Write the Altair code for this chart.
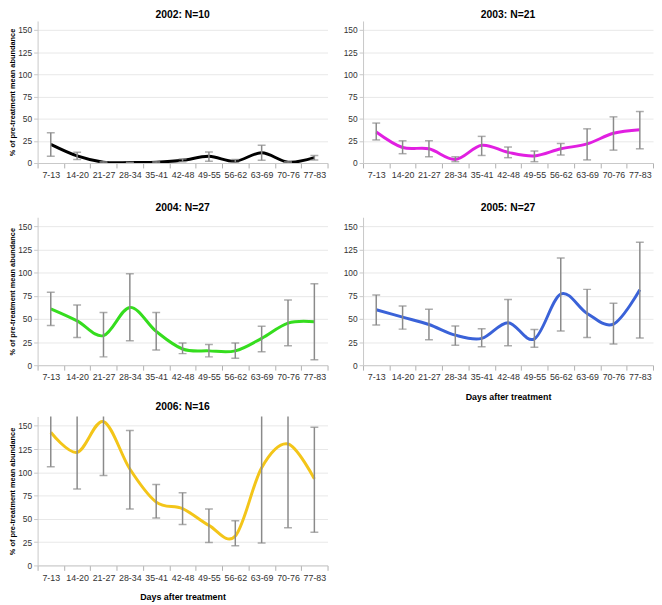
import altair as alt
import pandas as pd

cats = ["7-13", "14-20", "21-27", "28-34", "35-41", "42-48", "49-55", "56-62", "63-69", "70-76", "77-83"]

years = ["2002", "2003", "2004", "2005", "2006"]
titles = ["2002: N=10", "2003: N=21", "2004: N=27", "2005: N=27", "2006: N=16"]
colors = ["#000000", "#E11FE1", "#35DD1E", "#3A62D8", "#F3C519"]
y_ticks = [0, 25, 50, 75, 100, 125, 150]

mean_2002 = [21, 8, 1, 0.5, 1, 3, 7.5, 2, 11.5, 1, 6]
lo_2002 = [7.5, 4, 0.5, 0.2, 0.5, 1.5, 2, 0.5, 3, 0.5, 3.5]
hi_2002 = [34, 12, 1.5, 0.8, 1.5, 4.5, 12.5, 4, 20, 1.5, 8.5]

mean_2003 = [35, 17.5, 16, 4, 20, 12, 8, 16, 21.5, 33.5, 37.5]
lo_2003 = [26, 10.5, 7, 1.5, 8.5, 6, 1.5, 9, 3.5, 14.5, 16]
hi_2003 = [45, 25, 25, 7, 30, 18, 13.5, 22, 38.5, 52, 58]

mean_2004 = [61, 48, 32, 62.5, 36.5, 17.5, 15.5, 15.5, 29, 45.5, 47]
lo_2004 = [43, 30, 9, 26.5, 16.5, 12.5, 9, 7.5, 14.5, 21, 6]
hi_2004 = [79, 65, 57, 99, 57, 24, 22.5, 24, 42, 70.5, 88]

mean_2005 = [60, 52, 44, 32.5, 29, 46, 28.5, 77, 56, 44.5, 81.5]
lo_2005 = [43.5, 39, 27.5, 21.5, 20, 21, 19.5, 37, 30, 23, 29.5]
hi_2005 = [76, 64, 60.5, 42.5, 39.5, 71, 38.5, 116, 82, 67, 133]

mean_2006 = [143, 121.5, 154.5, 103.5, 68, 61, 43, 31.5, 105, 130.5, 93]
lo_2006 = [106, 82, 96.5, 60.5, 51, 44, 24.5, 21, 24, 40.5, 35.5]
hi_2006 = [180, 161, 212, 145, 87, 78, 60.5, 48, 186, 220, 148.5]

series = {
    "2002": (mean_2002, lo_2002, hi_2002),
    "2003": (mean_2003, lo_2003, hi_2003),
    "2004": (mean_2004, lo_2004, hi_2004),
    "2005": (mean_2005, lo_2005, hi_2005),
    "2006": (mean_2006, lo_2006, hi_2006),
}

FONT = "Liberation Sans"
Y_TITLE = "% of pre-treatment mean abundance"
X_TITLE = "Days after treatment"
ERR = "#8a8a8a"


def panel(i, show_ytitle, show_xtitle, h, title_offset, xtitle_pad=8):
    yr = years[i]
    m, lo, hi = series[yr]
    df = pd.DataFrame({"period": cats, "mean": m, "lo": lo, "hi": hi})
    xscale = alt.Scale(type="band", domain=cats, paddingInner=0, paddingOuter=0)
    xax = alt.Axis(
        tickBand="extent", labelAngle=0, labelFontSize=9, labelFont=FONT,
        labelColor="#333333", domainColor="#c8c8c8", tickColor="#b0b0b0",
        tickSize=5, labelPadding=3, grid=False, labelOverlap=False,
        title=X_TITLE if show_xtitle else None,
        titleFont=FONT, titleFontSize=9, titleFontWeight="bold",
        titleColor="#000000", titlePadding=xtitle_pad,
    )
    yscale = alt.Scale(domain=[0, 160], nice=False, zero=True)
    yax = alt.Axis(
        values=y_ticks, tickCount=7, labelFontSize=8.5, labelFont=FONT,
        labelColor="#333333", domainColor="#c8c8c8", tickColor="#c8c8c8",
        tickSize=4, labelPadding=2, gridColor="#e8e8e8", labelOverlap=False,
        title=Y_TITLE if show_ytitle else None,
        titleFont=FONT, titleFontSize=7.5, titleFontWeight="bold",
        titleColor="#000000", titlePadding=1,
    )
    base = alt.Chart(df)
    xenc = alt.X("period:N", scale=xscale, axis=xax, bandPosition=0.5, sort=cats)
    line = base.mark_line(
        color=colors[i], strokeWidth=3, interpolate="cardinal", clip=True
    ).encode(
        x=xenc,
        y=alt.Y("mean:Q", scale=yscale, axis=yax),
    )
    bars = base.mark_rule(color=ERR, strokeWidth=1.5, clip=True).encode(
        x=xenc,
        y=alt.Y("lo:Q", scale=yscale, axis=yax),
        y2="hi:Q",
    )
    cap_lo = base.mark_tick(color=ERR, thickness=1.5, size=8, orient="horizontal", clip=True).encode(
        x=xenc,
        y=alt.Y("lo:Q", scale=yscale, axis=yax),
    )
    cap_hi = base.mark_tick(color=ERR, thickness=1.5, size=8, orient="horizontal", clip=True).encode(
        x=xenc,
        y=alt.Y("hi:Q", scale=yscale, axis=yax),
    )
    return alt.layer(line, bars, cap_lo, cap_hi).properties(
        width=294, height=h,
        title=alt.TitleParams(titles[i], font=FONT, fontSize=10.5, fontWeight="bold",
                              color="#000000", anchor="middle", offset=title_offset),
    )


p1 = panel(0, True, False, 144, 1)
p2 = panel(1, False, False, 144, 1)
p3 = panel(2, True, False, 150, 4)
p4 = panel(3, False, True, 150, 4, xtitle_pad=11)
p5 = panel(4, True, True, 151, 4, xtitle_pad=11)

row1 = alt.hconcat(p1, p2, spacing=14)
row2 = alt.hconcat(p3, p4, spacing=14)
lower = alt.vconcat(row2, p5, spacing=0)
chart = alt.vconcat(row1, lower, spacing=23).properties(
    padding={"left": 0, "top": -3, "right": 0, "bottom": 0}
).configure_view(stroke=None)

chart.save("out.html", embed_options={"renderer": "svg", "actions": False})
